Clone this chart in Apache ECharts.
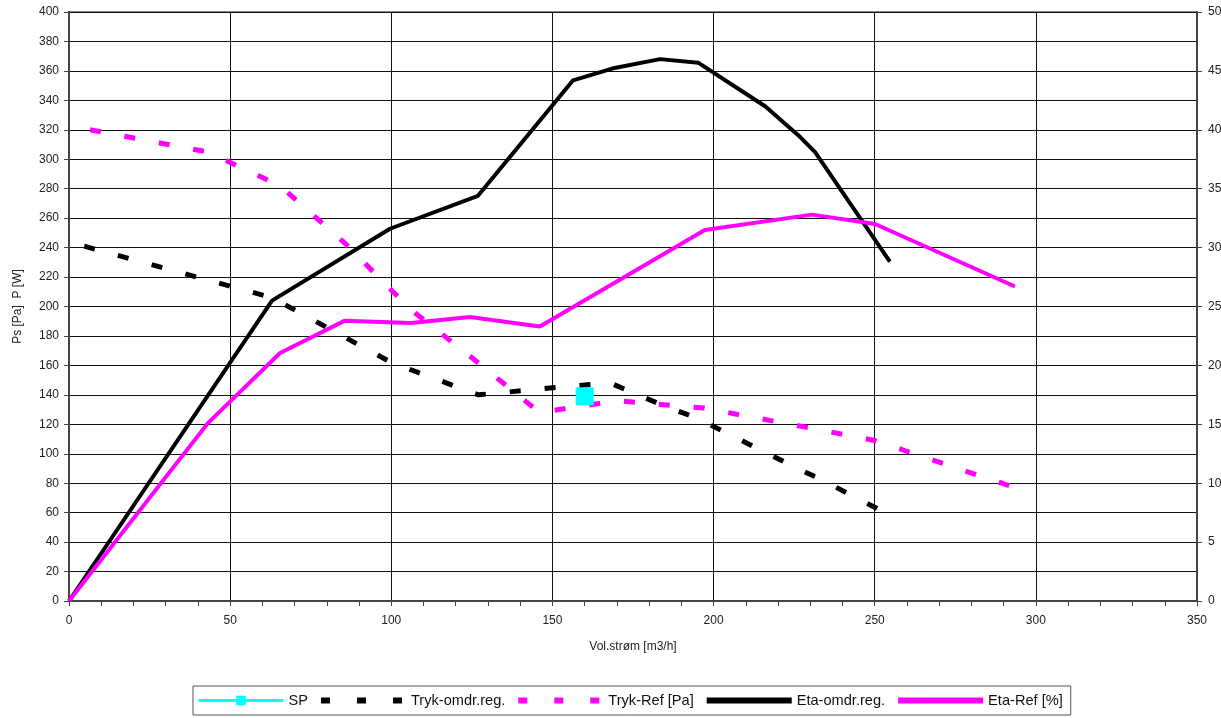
<!DOCTYPE html>
<html>
<head>
<meta charset="utf-8">
<script src="https://cdn.jsdelivr.net/npm/echarts@6/dist/echarts.min.js"></script>
<style>html,body{margin:0;padding:0;background:#fff}#c{width:1221px;height:718px}</style>
</head>
<body>
<div id="c"></div>
<script>
// X values (m3/h) and Y values
const spX = [160];
const spY = [139];

const trykOmdrX = [4.7, 63, 100, 127, 156, 168, 183, 195, 216, 227, 232, 255];
const trykOmdrY = [241, 206, 162, 140, 146, 148, 134, 124, 101, 89, 84, 58];

const trykRefX = [6.5, 43, 65.5, 85.6, 106, 124, 146, 170, 197, 230, 250, 293.5];
const trykRefY = [320, 305, 282, 243, 198, 167, 128, 136, 131, 117.5, 109, 77];

const etaOmdrX = [0, 63, 99.6, 126.9, 156.4, 168.5, 183.4, 195.2, 216, 226.8, 231.5, 254.7];
const etaOmdrY = [0, 25.5, 31.6, 34.4, 44.2, 45.2, 46.0, 45.7, 42.0, 39.4, 38.1, 28.8];

const etaRefX = [0, 43.1, 65.5, 85.6, 106.1, 124.4, 146.1, 197.3, 230.5, 250.1, 293.5];
const etaRefY = [0, 15.1, 21.05, 23.8, 23.6, 24.1, 23.3, 31.5, 32.8, 32.0, 26.7];

const names = ['SP', 'Tryk-omdr.reg.', 'Tryk-Ref [Pa]', 'Eta-omdr.reg.', 'Eta-Ref [%]'];

function zip(xs, ys) { return xs.map((x, i) => [x, ys[i]]); }

const font = 'Liberation Sans, Arial, sans-serif';
const chart = echarts.init(document.getElementById('c'));
const hidden = { opacity: 0 };
chart.setOption({
  animation: false,
  backgroundColor: '#fff',
  grid: { left: 69, right: 24, top: 12, bottom: 117, outerBoundsMode: 'none', containLabel: false,
          show: true, borderColor: '#888', borderWidth: 2, backgroundColor: '#fff' },
  legend: {
    data: [
      { name: names[0], lineStyle: { width: 3, color: '#00FFFF' } },
      { name: names[1], itemStyle: hidden, lineStyle: { width: 6, color: '#000', type: [9, 27] } },
      { name: names[2], itemStyle: hidden, lineStyle: { width: 6, color: '#FF00FF', type: [9, 27] } },
      { name: names[3], itemStyle: hidden, lineStyle: { width: 6, color: '#000', type: 'solid' } },
      { name: names[4], itemStyle: hidden, lineStyle: { width: 6, color: '#FF00FF', type: 'solid' } }
    ],
    left: 193, top: 686,
    itemWidth: 85, itemHeight: 12, itemGap: 10,
    borderColor: '#555', borderWidth: 1, padding: [7, 8, 7, 4],
    textStyle: { fontFamily: 'Liberation Sans Narrow, Liberation Sans, Arial', fontSize: 14.6, color: '#111' }
  },
  xAxis: {
    type: 'value', min: 0, max: 350, interval: 50,
    name: 'Vol.strøm [m3/h]', nameLocation: 'middle', nameGap: 40,
    nameTextStyle: { fontFamily: font, fontSize: 12, color: '#222' },
    axisLine: { onZero: false, lineStyle: { color: '#444', width: 2 } },
    axisTick: { show: true, length: 5, lineStyle: { color: '#444' } },
    minorTick: { show: true, splitNumber: 5, length: 5, lineStyle: { color: '#444' } },
    axisLabel: { margin: 14, fontFamily: font, fontSize: 12, color: '#222' },
    splitLine: { show: true, lineStyle: { color: '#111', width: 1 } }
  },
  yAxis: [{
    type: 'value', min: 0, max: 400, interval: 20, position: 'left',
    name: 'Ps [Pa]  P [W]', nameLocation: 'middle', nameGap: 45,
    nameTextStyle: { fontFamily: font, fontSize: 12, color: '#222' },
    axisLine: { show: true, lineStyle: { color: '#444', width: 2 } },
    axisTick: { show: true, length: 5, lineStyle: { color: '#444' } },
    axisLabel: { margin: 10, fontFamily: font, fontSize: 12, color: '#222' },
    splitLine: { show: true, lineStyle: { color: '#111', width: 1 } }
  }, {
    type: 'value', min: 0, max: 50, interval: 5, position: 'right',
    axisLine: { show: true, lineStyle: { color: '#444', width: 2 } },
    axisTick: { show: true, length: 5, lineStyle: { color: '#444' } },
    axisLabel: { margin: 11, fontFamily: font, fontSize: 12, color: '#222' },
    splitLine: { show: false }
  }],
  series: [
    { name: names[0], type: 'line', data: zip(spX, spY), symbol: 'rect', symbolSize: 18,
      itemStyle: { color: '#00FFFF' }, lineStyle: { color: '#00FFFF', width: 3 }, z: 10 },
    { name: names[1], type: 'line', data: zip(trykOmdrX, trykOmdrY), showSymbol: false, symbol: 'none',
      itemStyle: { color: '#000' }, lineStyle: { color: '#000', width: 5, type: [11, 24] } },
    { name: names[2], type: 'line', data: zip(trykRefX, trykRefY), showSymbol: false, symbol: 'none',
      itemStyle: { color: '#FF00FF' }, lineStyle: { color: '#FF00FF', width: 5, type: [11, 24] } },
    { name: names[3], type: 'line', yAxisIndex: 1, data: zip(etaOmdrX, etaOmdrY), showSymbol: false, symbol: 'none',
      itemStyle: { color: '#000' }, lineStyle: { color: '#000', width: 4 } },
    { name: names[4], type: 'line', yAxisIndex: 1, data: zip(etaRefX, etaRefY), showSymbol: false, symbol: 'none',
      itemStyle: { color: '#FF00FF' }, lineStyle: { color: '#FF00FF', width: 4 } }
  ]
});
</script>
</body>
</html>
